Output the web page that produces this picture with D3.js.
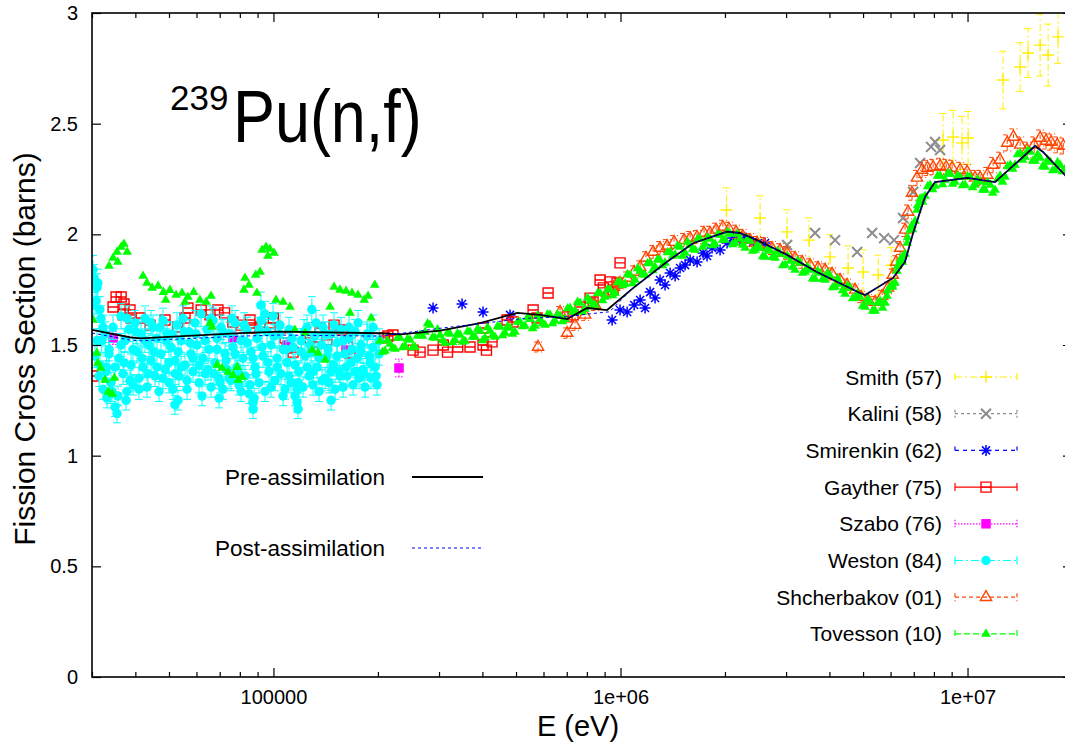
<!DOCTYPE html>
<html>
<head>
<meta charset="utf-8">
<script src="https://cdn.jsdelivr.net/npm/d3@7"></script>
<style>
  body { margin: 0; background: #fff; }
  svg { display: block; font-family: "Liberation Sans", Arial, Helvetica, sans-serif; }
</style>
</head>
<body>
<svg id="chart" width="1065" height="744"></svg>
<script>
// ---------- evaluated curves ----------
const preE  = [30000, 38500, 41300, 80000, 105000, 203000, 232000, 302000, 394000, 504000, 587000, 702000, 801000, 915000, 1087000, 1362000, 1618000, 2028000, 2210000, 2475000, 3020000, 3680000, 4900000, 5070000, 6100000, 6600000, 6970000, 7540000, 8060000, 10000000, 12000000, 15650000, 16500000, 18850000, 20000000];
const preXS = [1.568, 1.535, 1.530, 1.554, 1.560, 1.553, 1.548, 1.565, 1.599, 1.645, 1.636, 1.617, 1.667, 1.658, 1.757, 1.876, 1.960, 2.012, 2.006, 1.974, 1.907, 1.830, 1.735, 1.726, 1.803, 1.875, 2.006, 2.169, 2.236, 2.255, 2.236, 2.399, 2.372, 2.277, 2.232];
const postE  = [30000, 38500, 41300, 80000, 105000, 203000, 300000, 400000, 530000, 700000, 830000, 930000, 1087000, 1362000, 1618000, 2028000, 2210000, 2475000, 3020000, 3680000, 4900000, 5070000, 6100000, 6600000, 6970000, 7540000, 8060000, 10000000, 12000000, 15650000, 16500000, 18850000, 20000000];
const postXS = [1.554, 1.523, 1.519, 1.540, 1.545, 1.540, 1.575, 1.598, 1.620, 1.628, 1.642, 1.650, 1.757, 1.876, 1.960, 2.012, 2.006, 1.974, 1.907, 1.830, 1.735, 1.726, 1.803, 1.875, 2.006, 2.169, 2.236, 2.255, 2.236, 2.399, 2.372, 2.277, 2.232];

// ---------- measurements ----------
const smithE   = [2020000, 2525000, 3020000, 3495000, 4018000, 4528000, 5000000, 5530000, 6030000, 8505000, 9088000, 9647000, 10040000, 12660000, 14180000, 14950000, 16190000, 17070000, 18240000];
const smithXS  = [2.110, 2.074, 2.011, 1.974, 1.898, 1.848, 1.830, 1.816, 1.860, 2.426, 2.440, 2.413, 2.435, 2.697, 2.756, 2.819, 2.855, 2.810, 2.892];
const smithErr = [0.10, 0.10, 0.10, 0.10, 0.10, 0.10, 0.10, 0.09, 0.08, 0.12, 0.12, 0.12, 0.12, 0.13, 0.11, 0.11, 0.14, 0.14, 0.12];

const kaliniE  = [3020000, 3637000, 4153000, 4807000, 5310000, 5750000, 6140000, 6520000, 6970000, 7300000, 7850000, 8064000, 8337000];
const kaliniXS = [1.952, 2.006, 1.974, 1.920, 2.006, 1.983, 1.974, 2.074, 2.191, 2.322, 2.395, 2.417, 2.381];

const smirenkinE  = [288300, 349500, 401700, 480600, 946000, 997200, 1045000, 1095000, 1139000, 1177000, 1217000, 1258000, 1300000, 1344000, 1390000, 1437000, 1485000, 1535000, 1587000, 1662000, 1729000, 1776000, 1836000, 1936000, 2028000, 2111000, 2211000, 2301000, 2411000, 2525000, 2610000];
const smirenkinXS = [1.667, 1.685, 1.649, 1.636, 1.613, 1.658, 1.649, 1.681, 1.703, 1.667, 1.739, 1.712, 1.794, 1.771, 1.825, 1.812, 1.848, 1.861, 1.884, 1.875, 1.916, 1.902, 1.938, 1.929, 1.961, 1.983, 1.974, 1.983, 1.965, 1.952, 1.961];

const gaytherE  = [30200, 34500, 35200, 36400, 37100, 36900, 38900, 41260, 38600, 44090, 48700, 53000, 55600, 56700, 61900, 65650, 69200, 72300, 76400, 80600, 85600, 86740, 91480, 97750, 99900, 107970, 109500, 113900, 127500, 129800, 136200, 142500, 149500, 157700, 163400, 166200, 208900, 213700, 221000, 252500, 264500, 288300, 308500, 317300, 339600, 368500, 401700, 411000, 426500, 401700, 471100, 490200, 560000, 575000, 618500, 701600, 730000, 764700, 817200, 834000, 873300, 892000, 933200, 952000, 977000, 997200];
const gaytherXS = [1.360, 1.672, 1.717, 1.717, 1.685, 1.636, 1.622, 1.622, 1.658, 1.590, 1.613, 1.581, 1.622, 1.667, 1.658, 1.636, 1.658, 1.645, 1.604, 1.590, 1.613, 1.577, 1.581, 1.577, 1.622, 1.532, 1.486, 1.468, 1.532, 1.491, 1.577, 1.523, 1.590, 1.568, 1.491, 1.464, 1.532, 1.541, 1.545, 1.477, 1.468, 1.477, 1.500, 1.468, 1.491, 1.491, 1.500, 1.477, 1.514, 1.577, 1.613, 1.604, 1.658, 1.622, 1.735, 1.627, 1.636, 1.672, 1.712, 1.694, 1.794, 1.758, 1.785, 1.749, 1.780, 1.871];

const szaboE   = [34500, 76400, 109500, 161900, 230000];
const szaboXS  = [1.532, 1.532, 1.500, 1.477, 1.396];
const szaboErr = [0.03, 0.03, 0.03, 0.03, 0.04];

const westonE = [30200, 30600, 31010, 31430, 31850, 32270, 32700, 33140, 33580, 34030,
  34490, 34950, 35410, 35890, 36370, 36850, 37340, 37840, 38350, 38860,
  39380, 39910, 40440, 40980, 41530, 42080, 42650, 43220, 43790, 44380,
  44970, 45570, 46180, 46800, 47420, 48060, 48700, 49350, 50010, 50680,
  51360, 52040, 52740, 53440, 54160, 54880, 55610, 56360, 57110, 57870,
  58650, 59430, 60230, 61030, 61850, 62670, 63510, 64360, 65220, 66090,
  66980, 67870, 68780, 69700, 70630, 71570, 72530, 73500, 74480, 75470,
  76480, 77510, 78540, 79590, 80660, 81730, 82830, 83930, 85060, 86190,
  87340, 88510, 89690, 90890, 92100, 93330, 94580, 95840, 97120, 98420,
  99740, 101070, 102420, 103790, 105170, 106580, 108000, 109440, 110910, 112390,
  113890, 115410, 116950, 118510, 120100, 121700, 123330, 124980, 126650, 128340,
  130050, 131790, 133550, 135340, 137150, 138980, 140840, 142720, 144620, 146560,
  148510, 150500, 152510, 154550, 156610, 158700, 160820, 162970, 165150, 167350,
  169590, 171860, 174150, 176480, 178840, 181230, 183650, 186100, 188590, 191110,
  193660, 196250, 198870, 201520,
  30400, 30800, 31200, 31600, 32000, 33000, 33800, 37600,
  30400, 31010, 31630, 32270, 32920, 33580, 34260, 34950, 35650, 36370,
  37100, 37840, 38610, 39380, 40170, 40980, 41800, 42650, 43500, 44380,
  45270, 46180, 47110, 48060, 49020, 50010, 51010, 52040, 53090, 54160,
  55250, 56360, 57490, 58650, 59830, 61030, 62260, 63510, 64790, 66090,
  67420, 68780, 70150, 71570, 73000, 74480, 75970, 77510, 79060, 80660,
  82280, 83930, 85600, 87340, 89090, 90890, 92710, 94580, 96480, 98420,
  100400, 102420, 104450, 106580, 108720, 110910, 113140, 115410, 117730, 120100,
  122510, 124980, 127500, 130050, 132670, 135340, 138070, 140840, 143680, 146560,
  149510, 152510, 155570, 158700, 161890, 165150, 168470, 171860, 175310, 178840,
  182430, 186100, 189840, 193660, 197550, 201520,
  53090, 69700, 87340, 88000, 116950, 117730, 146560, 92000, 129000, 52000];
const westonXS = [1.84, 1.45, 1.76, 1.36, 1.62, 1.30, 1.55, 1.26, 1.48, 1.33,
  1.58, 1.22, 1.19, 1.44, 1.63, 1.37, 1.52, 1.29, 1.57, 1.41,
  1.32, 1.60, 1.47, 1.35, 1.55, 1.40, 1.62, 1.31, 1.50, 1.43,
  1.58, 1.36, 1.53, 1.29, 1.46, 1.61, 1.39, 1.55, 1.33, 1.49,
  1.30, 1.43, 1.59, 1.36, 1.52, 1.62, 1.41, 1.34, 1.56, 1.46,
  1.38, 1.60, 1.50, 1.33, 1.64, 1.44, 1.37, 1.57, 1.48, 1.31,
  1.61, 1.42, 1.53, 1.35, 1.58, 1.30, 1.46, 1.39, 1.55, 1.34,
  1.49, 1.60, 1.40, 1.32, 1.52, 1.44, 1.36, 1.57, 1.28, 1.47,
  1.24, 1.40, 1.53, 1.33, 1.61, 1.45, 1.29, 1.56, 1.38, 1.50,
  1.63, 1.34, 1.44, 1.55, 1.37, 1.48, 1.30, 1.42, 1.57, 1.33,
  1.49, 1.27, 1.24, 1.38, 1.52, 1.31, 1.45, 1.58, 1.36, 1.47,
  1.32, 1.54, 1.40, 1.29, 1.50, 1.58, 1.35, 1.45, 1.33, 1.55,
  1.41, 1.30, 1.51, 1.38, 1.57, 1.31, 1.46, 1.36, 1.53, 1.42,
  1.32, 1.56, 1.44, 1.35, 1.50, 1.39, 1.31, 1.54, 1.45, 1.35,
  1.49, 1.40, 1.32, 1.46,
  1.80, 1.70, 1.78, 1.66, 1.52, 1.40, 1.28, 1.25,
  1.68, 1.52, 1.41, 1.58, 1.38, 1.46, 1.29, 1.40, 1.27, 1.50,
  1.42, 1.62, 1.34, 1.48, 1.56, 1.30, 1.44, 1.52, 1.37, 1.60,
  1.47, 1.40, 1.58, 1.35, 1.52, 1.42, 1.55, 1.37, 1.47, 1.40,
  1.56, 1.30, 1.51, 1.44, 1.55, 1.41, 1.27, 1.52, 1.39, 1.62,
  1.37, 1.48, 1.33, 1.56, 1.43, 1.35, 1.62, 1.46, 1.38, 1.29,
  1.59, 1.51, 1.32, 1.44, 1.37, 1.57, 1.49, 1.64, 1.42, 1.31,
  1.54, 1.40, 1.59, 1.27, 1.48, 1.36, 1.53, 1.41, 1.33, 1.47,
  1.56, 1.40, 1.50, 1.38, 1.60, 1.44, 1.34, 1.55, 1.48, 1.38,
  1.59, 1.45, 1.36, 1.52, 1.40, 1.58, 1.48, 1.38, 1.60, 1.47,
  1.37, 1.55, 1.42, 1.58, 1.36, 1.52,
  1.25, 1.26, 1.21, 1.26, 1.30, 1.21, 1.25, 1.68, 1.66, 1.23];
const westonRelErr = 0.035;

const shcherbakovE = [578700, 669700, 701600, 739800, 790500, 844800, 914800, 958000, 997200, 1045000,
  1095000, 1139000, 1185000, 1242000, 1300000, 1362000, 1427000, 1525000, 1587000, 1662000,
  1741000, 1812000, 1885000, 1973000, 2055000, 2152000, 2250000, 2363000, 2474000, 2593000,
  2733000, 2883000, 3020000, 3185000, 3337000, 3518000, 3710000, 3887000, 4071000, 4293000,
  4498000, 4743000, 4936000, 5170000, 5416000, 5675000, 5900000, 6090000, 6230000, 6393000,
  6609000, 6740000, 6920000, 7150000, 7400000, 7670000, 7960000, 8337000, 8680000, 9030000,
  9520000, 9970000, 10510000, 10870000, 11400000, 11850000, 12410000, 13010000, 13560000, 14180000,
  14840000, 15560000, 16190000, 16840000, 17410000, 18140000, 18880000];
const shcherbakovXS = [1.491, 1.649, 1.554, 1.590, 1.636, 1.681, 1.735, 1.762, 1.780, 1.803,
  1.830, 1.852, 1.893, 1.920, 1.938, 1.947, 1.965, 1.974, 1.983, 1.988,
  2.006, 2.006, 2.020, 2.033, 2.024, 2.011, 1.992, 1.974, 1.961, 1.956,
  1.938, 1.929, 1.916, 1.893, 1.875, 1.861, 1.848, 1.839, 1.821, 1.794,
  1.771, 1.749, 1.717, 1.703, 1.694, 1.721, 1.758, 1.816, 1.875, 1.938,
  2.020, 2.101, 2.187, 2.255, 2.291, 2.300, 2.304, 2.309, 2.304, 2.300,
  2.291, 2.282, 2.255, 2.255, 2.268, 2.313, 2.336, 2.413, 2.440, 2.404,
  2.381, 2.404, 2.435, 2.422, 2.417, 2.404, 2.399];
const shcherbakovRelErr = 0.015;

const tovessonE = [
  // below 200 keV
  34500, 35400, 36400, 37100, 37900, 35600, 33600,
  42100, 43200, 44700, 46500, 48200, 50300, 52400, 54500, 56700, 58900, 61400, 64000, 66100, 48900, 55600, 65700, 66500,
  92700, 95200, 97700, 100400, 96400, 82800, 85000, 88900, 91500, 82200, 89600, 101700, 106600, 111600, 115300, 123400, 129200, 134400, 141000,
  145600, 149500, 155500, 161900, 168400, 175300, 182600, 187300, 195900, 191300, 166200,
  30200, 31000, 31200, 31800, 32700, 33400, 34300, 34800, 68800, 71100, 74000, 76500, 79100, 81200, 78600,
  // 200 keV and above
  202800, 209600, 216700, 224000, 231600, 239400, 247500, 255800, 264500, 273400,
  282600, 292100, 302000, 312200, 322700, 333600, 344900, 356500, 368500, 380900,
  393800, 407100, 420800, 435000, 449700, 464900, 480600, 496800, 513500, 530800,
  548800, 567300, 586400, 606200, 626700, 647800, 669700, 692300, 715600, 739800,
  764700, 790500, 817200, 844800, 873300, 902700, 933200, 964700, 997200, 1030800,
  1066000, 1102000, 1139000, 1177000, 1217000, 1258000, 1300000, 1344000, 1390000, 1437000,
  1485000, 1535000, 1587000, 1641000, 1696000, 1753000, 1812000, 1873000, 1936000, 2002000,
  2069000, 2139000, 2211000, 2286000, 2363000, 2443000, 2525000, 2610000, 2698000, 2789000,
  2883000, 2981000, 3081000, 3185000, 3292000, 3403000, 3518000, 3637000, 3760000, 3887000,
  4018000, 4153000, 4293000, 4438000, 4588000, 4743000, 4903000, 5068000, 5239000, 5416000,
  5598000, 5787000, 5983000, 6185000, 6393000, 6609000, 6832000, 7062000, 7300000, 7547000,
  7801000, 8064000, 8337000, 8618000, 8909000, 9209000, 9520000, 9841000, 10170000, 10510000,
  10870000, 11240000, 11620000, 12010000, 12410000, 12830000, 13270000, 13710000, 14180000, 14650000,
  15150000, 15660000, 16190000, 16730000, 17300000, 17880000, 18490000, 19110000,
  5860000, 6060000, 6260000, 6480000, 6700000, 6920000, 7150000, 7400000,
  206200, 213100, 220300, 227700, 235500, 243400, 251600, 260100, 268900, 278000,
  287300, 297000, 307100, 317400, 328100, 339200, 350700, 362500, 374700, 387300,
  400400, 413900, 427800, 442300, 457200, 472700, 488600, 505100, 522100, 539700,
  558000, 576800, 596200, 616300, 637200, 658600, 680900, 703900, 727600, 752200,
  777500, 803700, 830900, 858900, 887900, 917800, 948800, 980800, 1013900, 1048000,
  1083800, 1120400, 1158100, 1196700, 1237400, 1279000, 1321700, 1366500, 1413300, 1461000,
  1509800, 1560700, 1613500, 1668500, 1724400, 1782300, 1842300, 1904300, 1968400, 2035500,
  2103600, 2174800, 2248000, 2324200, 2402500, 2483900, 2567200, 2653700, 2743100, 2835700,
  2931200, 3030900, 3132500, 3238300, 3347100, 3459900, 3576900, 3697800, 3822900, 3952000,
  4085200, 4222500, 4364800, 4512200, 4664800, 4822300, 4985000, 5152800, 5326600, 5506600,
  5691700, 5883800, 6083100, 6288500, 6499900, 6719600, 6946300, 7180100, 7422100, 7673300,
  7931500, 8198900, 8476500, 8762200, 9058000, 9363100, 9679300, 10005600, 10340100, 10685800,
  11051800, 11428000, 11814400, 12210900, 12617600, 13044600, 13492000, 13939400, 14417200, 14895100,
  15403500, 15922000, 16460900, 17009900, 17589400, 18179100, 18799300];
const tovessonXS = [
  1.893, 1.920, 1.943, 1.956, 1.920, 1.875, 1.857,
  1.812, 1.780, 1.758, 1.767, 1.739, 1.748, 1.726, 1.735, 1.717, 1.739, 1.703, 1.694, 1.721, 1.703, 1.694, 1.599, 1.581,
  1.929, 1.943, 1.934, 1.916, 1.902, 1.803, 1.771, 1.816, 1.830, 1.749, 1.735, 1.703, 1.694, 1.672, 1.568, 1.554, 1.477, 1.464, 1.432,
  1.672, 1.762, 1.749, 1.744, 1.735, 1.726, 1.703, 1.721, 1.771, 1.622, 1.645,
  1.613, 1.464, 1.419, 1.396, 1.342, 1.288, 1.279, 1.351, 1.410, 1.396, 1.378, 1.364, 1.342, 1.355, 1.400,
  1.518, 1.473, 1.505, 1.482, 1.532, 1.495, 1.523, 1.491, 1.545, 1.559,
  1.590, 1.532, 1.545, 1.509, 1.550, 1.523, 1.545, 1.518, 1.559, 1.536,
  1.563, 1.532, 1.563, 1.536, 1.581, 1.554, 1.577, 1.559, 1.604, 1.586,
  1.617, 1.586, 1.617, 1.590, 1.636, 1.608, 1.631, 1.617, 1.667, 1.654,
  1.690, 1.663, 1.699, 1.681, 1.735, 1.717, 1.749, 1.735, 1.785, 1.776,
  1.816, 1.794, 1.834, 1.816, 1.871, 1.852, 1.884, 1.871, 1.920, 1.907,
  1.943, 1.916, 1.952, 1.929, 1.979, 1.956, 1.979, 1.956, 1.997, 1.974,
  2.002, 1.961, 1.979, 1.938, 1.970, 1.929, 1.938, 1.898, 1.925, 1.893,
  1.911, 1.861, 1.880, 1.839, 1.871, 1.830, 1.839, 1.798, 1.825, 1.794,
  1.812, 1.762, 1.776, 1.730, 1.758, 1.712, 1.717, 1.672, 1.694, 1.654,
  1.699, 1.690, 1.762, 1.780, 1.884, 1.911, 2.020, 2.060, 2.160, 2.173,
  2.223, 2.218, 2.264, 2.246, 2.273, 2.236, 2.259, 2.223, 2.259, 2.223,
  2.236, 2.200, 2.223, 2.200, 2.264, 2.259, 2.313, 2.313, 2.367, 2.349,
  2.372, 2.331, 2.345, 2.304, 2.327, 2.291, 2.313, 2.295,
  1.721, 1.771, 1.834, 1.898, 1.961, 2.042, 2.110, 2.164,
  1.468, 1.520, 1.486, 1.532, 1.489, 1.527, 1.489, 1.541, 1.541, 1.597,
  1.534, 1.570, 1.520, 1.554, 1.511, 1.552, 1.514, 1.561, 1.536, 1.572,
  1.520, 1.579, 1.543, 1.584, 1.543, 1.584, 1.550, 1.604, 1.584, 1.624,
  1.575, 1.633, 1.597, 1.638, 1.597, 1.638, 1.606, 1.665, 1.649, 1.694,
  1.649, 1.712, 1.683, 1.733, 1.701, 1.751, 1.724, 1.782, 1.769, 1.819,
  1.778, 1.846, 1.819, 1.868, 1.837, 1.886, 1.859, 1.918, 1.902, 1.947,
  1.902, 1.965, 1.934, 1.979, 1.943, 1.986, 1.950, 1.999, 1.974, 2.011,
  1.954, 2.002, 1.952, 1.979, 1.925, 1.952, 1.900, 1.934, 1.898, 1.925,
  1.859, 1.902, 1.852, 1.880, 1.825, 1.852, 1.800, 1.834, 1.798, 1.825,
  1.760, 1.800, 1.746, 1.769, 1.710, 1.733, 1.676, 1.706, 1.654, 1.690,
  1.667, 1.746, 1.762, 1.857, 1.875, 1.986, 2.022, 2.130, 2.146, 2.216,
  2.203, 2.264, 2.225, 2.273, 2.227, 2.266, 2.221, 2.261, 2.212, 2.248,
  2.200, 2.234, 2.187, 2.250, 2.236, 2.307, 2.295, 2.361, 2.336, 2.379,
  2.331, 2.361, 2.307, 2.336, 2.288, 2.325, 2.284];

// ---------- axis ticks ----------
const xMajorTicks  = [1e5, 1e6, 1e7];
const xMajorLabels = ["100000", "1e+06", "1e+07"];
const yTicks       = [0, 0.5, 1, 1.5, 2, 2.5, 3];
const yTickLabels  = ["0", "0.5", "1", "1.5", "2", "2.5", "3"];

// ---------- layout ----------
const frame = { left: 92, right: 1072, top: 13, bottom: 677 };
const svg = d3.select("#chart");
const x = d3.scaleLog().domain([3e4, 2e7]).range([frame.left, frame.right]);
const y = d3.scaleLinear().domain([0, 3]).range([frame.bottom, frame.top]);

svg.append("defs").append("clipPath").attr("id", "plotclip")
  .append("rect").attr("x", frame.left).attr("y", frame.top)
  .attr("width", frame.right - frame.left).attr("height", frame.bottom - frame.top);

// marker shapes
const markerDefs = {
  plus:     { d: "M-6,0H6M0,-6V6", fill: false, sw: 1.4 },
  cross:    { d: "M-5,-5L5,5M-5,5L5,-5", fill: false, sw: 2 },
  star:     { d: "M-5.5,0H5.5M0,-5.5V5.5M-4,-4L4,4M-4,4L4,-4", fill: false, sw: 1.5 },
  boxOpen:  { d: "M-5,-5H5V5H-5Z M-5,0H5", fill: false, sw: 1.4 },
  boxFill:  { d: d3.symbol().type(d3.symbolSquare).size(90)(), fill: true, sw: 0 },
  circFill: { d: d3.symbol().type(d3.symbolCircle).size(70)(), fill: true, sw: 0 },
  triOpen:  { d: d3.symbol().type(d3.symbolTriangle).size(55)(), fill: false, sw: 1.4 },
  triFill:  { d: d3.symbol().type(d3.symbolTriangle).size(40)(), fill: true, sw: 0 }
};

const series = [
  { name: "Smith (57)", E: smithE, xs: smithXS, err: smithErr, color: "#fff000", marker: "plus", dash: "7,3,2,3" },
  { name: "Kalini (58)", E: kaliniE, xs: kaliniXS, err: null, color: "#8c8c8c", marker: "cross", dash: "3,3" },
  { name: "Smirenkin (62)", E: smirenkinE, xs: smirenkinXS, err: null, color: "#0000ff", marker: "star", dash: "4,4" },
  { name: "Gayther (75)", E: gaytherE, xs: gaytherXS, err: null, color: "#ff0000", marker: "boxOpen", dash: null },
  { name: "Szabo (76)", E: szaboE, xs: szaboXS, err: szaboErr, color: "#ff00ff", marker: "boxFill", dash: "1.5,1.5" },
  { name: "Weston (84)", E: westonE, xs: westonXS, err: westonXS.map(v => v * westonRelErr), color: "#00ffff", marker: "circFill", dash: "8,3,2,3" },
  { name: "Shcherbakov (01)", E: shcherbakovE, xs: shcherbakovXS, err: shcherbakovXS.map(v => v * shcherbakovRelErr), color: "#ff4500", marker: "triOpen", dash: "4,3" },
  { name: "Tovesson (10)", E: tovessonE, xs: tovessonXS, err: null, color: "#00ff00", marker: "triFill", dash: "6,3" }
];

function drawMarker(g, kind, color, px, py) {
  const m = markerDefs[kind];
  g.append("path").attr("d", m.d)
    .attr("transform", `translate(${px},${py})`)
    .attr("fill", m.fill ? color : "none")
    .attr("stroke", m.fill ? "none" : color)
    .attr("stroke-width", m.sw);
}

// data layers
const gData = svg.append("g").attr("clip-path", "url(#plotclip)");
series.forEach(s => {
  const g = gData.append("g");
  s.E.forEach((e, i) => {
    const px = x(e), py = y(s.xs[i]);
    if (s.err) {
      const y0 = y(s.xs[i] - s.err[i]), y1 = y(s.xs[i] + s.err[i]);
      const eb = g.append("path")
        .attr("d", `M${px},${y0}V${y1}M${px - 4},${y0}H${px + 4}M${px - 4},${y1}H${px + 4}`)
        .attr("stroke", s.color).attr("stroke-width", 1).attr("fill", "none");
      if (s.dash) eb.attr("stroke-dasharray", s.dash);
    }
    drawMarker(g, s.marker, s.color, px, py);
  });
});

// evaluations
const line = d3.line().x(d => x(d[0])).y(d => y(d[1]));
gData.append("path").datum(preE.map((e, i) => [e, preXS[i]]))
  .attr("d", line).attr("fill", "none").attr("stroke", "#000").attr("stroke-width", 1.8);
gData.append("path").datum(postE.map((e, i) => [e, postXS[i]]))
  .attr("d", line).attr("fill", "none").attr("stroke", "#0000ff").attr("stroke-width", 1)
  .attr("stroke-dasharray", "3,3");

// ---------- axes ----------
const minorX = x.ticks().filter(v => !xMajorTicks.includes(v));
function styleAxis(g) {
  g.select(".domain").remove();
  g.selectAll(".tick line").attr("stroke", "#000").attr("stroke-width", 1.2);
  g.selectAll("text").attr("font-size", 20).attr("fill", "#000")
    .attr("font-family", '"Liberation Sans", Arial, sans-serif');
}
svg.append("g").attr("transform", `translate(0,${frame.bottom})`)
  .call(d3.axisBottom(x).tickValues(xMajorTicks).tickFormat((d, i) => xMajorLabels[i]).tickSizeInner(-9).tickSizeOuter(0).tickPadding(13))
  .call(styleAxis);
svg.append("g").attr("transform", `translate(0,${frame.bottom})`)
  .call(d3.axisBottom(x).tickValues(minorX).tickFormat("").tickSizeInner(-5).tickSizeOuter(0))
  .call(styleAxis);
svg.append("g").attr("transform", `translate(0,${frame.top})`)
  .call(d3.axisTop(x).tickValues(xMajorTicks).tickFormat("").tickSizeInner(-9).tickSizeOuter(0))
  .call(styleAxis);
svg.append("g").attr("transform", `translate(0,${frame.top})`)
  .call(d3.axisTop(x).tickValues(minorX).tickFormat("").tickSizeInner(-5).tickSizeOuter(0))
  .call(styleAxis);
svg.append("g").attr("transform", `translate(${frame.left},0)`)
  .call(d3.axisLeft(y).tickValues(yTicks).tickFormat((d, i) => yTickLabels[i]).tickSizeInner(-9).tickSizeOuter(0).tickPadding(14))
  .call(styleAxis);
svg.append("g").attr("transform", `translate(${frame.right},0)`)
  .call(d3.axisRight(y).tickValues(yTicks).tickFormat("").tickSizeInner(-9).tickSizeOuter(0))
  .call(styleAxis);

// frame
svg.append("rect").attr("x", frame.left).attr("y", frame.top)
  .attr("width", frame.right - frame.left).attr("height", frame.bottom - frame.top)
  .attr("fill", "none").attr("stroke", "#000").attr("stroke-width", 1.6);

// axis titles
svg.append("text").attr("x", 578).attr("y", 736).attr("text-anchor", "middle")
  .attr("font-size", 29).text("E (eV)");
svg.append("text").attr("transform", "translate(35,349) rotate(-90)")
  .attr("text-anchor", "middle").attr("font-size", 30).text("Fission Cross Section (barns)");

// reaction label
svg.append("text").attr("x", 170).attr("y", 110).attr("font-size", 35).text("239");
svg.append("text").attr("transform", "translate(233,142) scale(0.85,1)")
  .attr("font-size", 74).text("Pu(n,f)");

// ---------- key: evaluations ----------
const keyEval = [
  { label: "Pre-assimilation", y: 477, color: "#000", width: 1.8, dash: null },
  { label: "Post-assimilation", y: 548, color: "#0000ff", width: 1, dash: "3,3" }
];
keyEval.forEach(k => {
  svg.append("text").attr("x", 385).attr("y", k.y + 8).attr("text-anchor", "end")
    .attr("font-size", 22.5).text(k.label);
  const l = svg.append("line").attr("x1", 412).attr("x2", 483).attr("y1", k.y).attr("y2", k.y)
    .attr("stroke", k.color).attr("stroke-width", k.width);
  if (k.dash) l.attr("stroke-dasharray", k.dash);
});

// ---------- key: measurements ----------
series.forEach((s, i) => {
  const ky = 377 + i * 36.7;
  svg.append("text").attr("x", 942).attr("y", ky + 7.5).attr("text-anchor", "end")
    .attr("font-size", 21).text(s.name);
  const ln = svg.append("path")
    .attr("d", `M955,${ky}H1017M955,${ky - 4}V${ky + 4}M1017,${ky - 4}V${ky + 4}`)
    .attr("stroke", s.color).attr("stroke-width", 1.2).attr("fill", "none");
  if (s.dash) ln.attr("stroke-dasharray", s.dash);
  drawMarker(svg, s.marker, s.color, 986, ky);
});
</script>
</body>
</html>
